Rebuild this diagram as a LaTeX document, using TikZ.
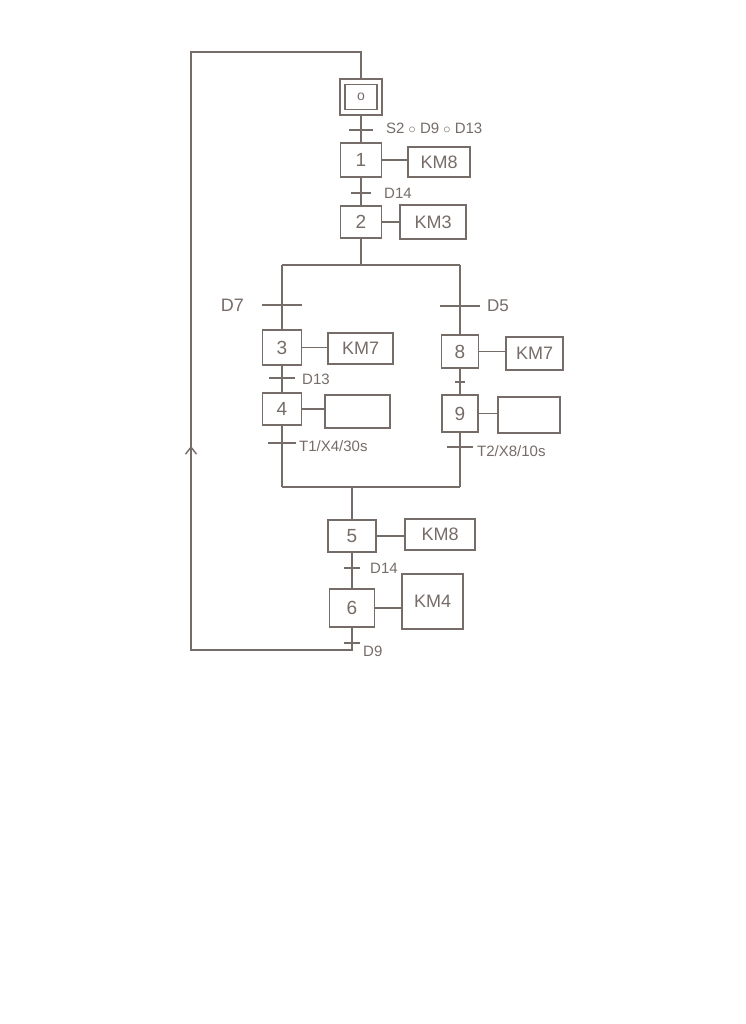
\documentclass[tikz,border=0pt]{standalone}
\usepackage{fontspec}
\setmainfont{Liberation Sans}
\usetikzlibrary{arrows.meta}
\definecolor{pencil}{RGB}{118,108,104}
\begin{document}
\begin{tikzpicture}[x=1pt,y=-1pt,
  stepbox/.style={draw=pencil,line width=1.8pt,rectangle,inner sep=0pt,text=pencil,font=\fontsize{19}{19}\selectfont},
  actbox/.style={draw=pencil,line width=1.8pt,rectangle,inner sep=0pt,text=pencil,font=\fontsize{18}{18}\selectfont},
  trans/.style={rectangle,inner sep=0pt,minimum height=0pt},
  tbar/.style={draw=pencil,line width=1.8pt},
  tlabel/.style={text=pencil,inner sep=0pt,font=\fontsize{15}{15}\selectfont},
  link/.style={draw=pencil,line width=1.8pt}]
\fill[white] (0,0) rectangle (745,1024);
\useasboundingbox (0,0) rectangle (745,1024);

% steps
\node[stepbox,minimum width=42pt,minimum height=36pt] (s0) at (361,97) {};
\node[stepbox,minimum width=32pt,minimum height=25pt] (s0in) at (361,97) {\fontsize{14}{14}\selectfont o};
\node[stepbox,minimum width=41pt,minimum height=34pt] (s1) at (361,160) {1};
\node[stepbox,minimum width=41pt,minimum height=32pt] (s2) at (361,222) {2};
\node[stepbox,minimum width=39pt,minimum height=35pt] (s3) at (282,347.5) {3};
\node[stepbox,minimum width=39pt,minimum height=32pt] (s4) at (282,409) {4};
\node[stepbox,minimum width=37pt,minimum height=33pt] (s8) at (460,351.5) {8};
\node[stepbox,minimum width=36pt,minimum height=37pt] (s9) at (460,413.5) {9};
\node[stepbox,minimum width=48pt,minimum height=32pt] (s5) at (352,536) {5};
\node[stepbox,minimum width=45pt,minimum height=38pt] (s6) at (352,608) {6};

% actions
\node[actbox,minimum width=62pt,minimum height=30pt] (a1) at (439,162) {KM8};
\node[actbox,minimum width=66pt,minimum height=34pt] (a2) at (433,222) {KM3};
\node[actbox,minimum width=65pt,minimum height=31pt] (a3) at (360.5,348.5) {KM7};
\node[actbox,minimum width=65pt,minimum height=33pt] (a4) at (357.5,411.5) {};
\node[actbox,minimum width=57pt,minimum height=33pt] (a8) at (534.5,353.5) {KM7};
\node[actbox,minimum width=62pt,minimum height=36pt] (a9) at (529,415) {};
\node[actbox,minimum width=70pt,minimum height=31pt] (a5) at (440,534.5) {KM8};
\node[actbox,minimum width=61pt,minimum height=55pt] (a6) at (432.5,601.5) {KM4};

% action links
\draw[link] (s1.east) -- (s1.east -| a1.west);
\draw[link] (s2.east) -- (s2.east -| a2.west);
\draw[link] (s3.east) -- (s3.east -| a3.west);
\draw[link] (s4.east) -- (s4.east -| a4.west);
\draw[link] (s8.east) -- (s8.east -| a8.west);
\draw[link] (s9.east) -- (s9.east -| a9.west);
\draw[link] (s5.east) -- (s5.east -| a5.west);
\draw[link] (s6.east) -- (s6.east -| a6.west);

% transitions
\node[trans,minimum width=23pt] (t01) at (361,130) {};
\node[trans,minimum width=20pt] (t12) at (361,193) {};
\node[trans,minimum width=39pt] (t3) at (282,305) {};
\node[trans,minimum width=39pt] (t8) at (460,306) {};
\node[trans,minimum width=25pt] (t34) at (282,378) {};
\node[trans,minimum width=10pt] (t89) at (460,382) {};
\node[trans,minimum width=27pt] (t4) at (282,443) {};
\node[trans,minimum width=26pt] (t9) at (460,447) {};
\node[trans,minimum width=15pt] (t56) at (352,568) {};
\node[trans,minimum width=15pt] (t6) at (352,643) {};
\foreach \t in {t01,t12,t3,t8,t34,t89,t4,t9,t56,t6}
  \draw[tbar] (\t.west) -- (\t.east);

% transition labels
\node[tlabel,anchor=west] (l01) at (386,128) {S2 $\circ$ D9 $\circ$ D13};
\node[tlabel,anchor=west] (l12) at (384,193) {D14};
\node[tlabel,anchor=east,font=\fontsize{18}{18}\selectfont] (l3) at (244,305) {D7};
\node[tlabel,anchor=west,font=\fontsize{17}{17}\selectfont] (l8) at (487,306) {D5};
\node[tlabel,anchor=west] (l34) at (302,379) {D13};
\node[tlabel,anchor=west] (l4) at (299,446) {T1/X4/30s};
\node[tlabel,anchor=west] (l9) at (477,451) {T2/X8/10s};
\node[tlabel,anchor=west] (l56) at (370,568) {D14};
\node[tlabel,anchor=west] (l6) at (363,651) {D9};

% divergence / convergence coordinates
\coordinate (divL) at (282,265);
\coordinate (divR) at (460,265);
\coordinate (cvL) at (282,487);
\coordinate (cvR) at (460,487);

% sequence links
\draw[link] (s0.south) -- (s1.north);
\draw[link] (s1.south) -- (s2.north);
\draw[link] (s2.south) -- (s2.south |- divL);
\draw[link] (divL) -- (divR);
\draw[link] (divL) -- (s3.north);
\draw[link] (s3.south) -- (s4.north);
\draw[link] (s4.south) -- (cvL);
\draw[link] (divR) -- (s8.north);
\draw[link] (s8.south) -- (s9.north);
\draw[link] (s9.south) -- (cvR);
\draw[link] (cvL) -- (cvR);
\draw[link] (s5.north) -- (s5.north |- cvL);
\draw[link] (s5.south) -- (s6.north);

% loop back
\coordinate (loopBL) at (191,650);
\coordinate (loopTL) at (191,52);
\coordinate (loopTR) at (361,52);
\coordinate (arrowpt) at (191,446);
\draw[link] (s6.south) |- (loopBL) -- (loopTL) -- (loopTR) -- (s0.north);
\draw[link,-{Straight Barb[length=7pt,width=11pt,line width=1.4pt]}] (loopBL) -- (arrowpt);
\end{tikzpicture}
\end{document}
